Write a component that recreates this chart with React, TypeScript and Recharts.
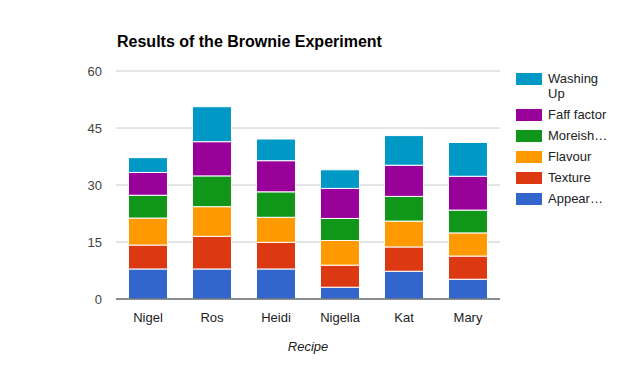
import React from "react";
import { BarChart, Bar, XAxis, YAxis, CartesianGrid } from "recharts";

const recipes = ["Nigel", "Ros", "Heidi", "Nigella", "Kat", "Mary"];
const appearance = [7.9, 7.9, 7.9, 3.1, 7.3, 5.2];
const texture = [6.3, 8.6, 7.0, 5.8, 6.4, 6.1];
const flavour = [7.1, 7.8, 6.6, 6.5, 6.8, 6.1];
const moreish = [6.0, 8.1, 6.7, 5.8, 6.5, 6.0];
const faff = [6.0, 9.0, 8.2, 7.9, 8.2, 8.9];
const washing = [3.9, 9.2, 5.7, 4.9, 7.8, 8.9];
const yTicks = [0, 15, 30, 45, 60];

const series = [
  { key: "appearance", name: "Appear…", color: "#3366cc", values: appearance },
  { key: "texture", name: "Texture", color: "#dc3912", values: texture },
  { key: "flavour", name: "Flavour", color: "#ff9900", values: flavour },
  { key: "moreish", name: "Moreish…", color: "#109618", values: moreish },
  { key: "faff", name: "Faff factor", color: "#990099", values: faff },
  { key: "washing", name: "Washing Up", color: "#0099c6", values: washing },
];

const data = recipes.map((r, i) => {
  const row: any = { recipe: r };
  series.forEach((s) => (row[s.key] = s.values[i]));
  return row;
});

const font = "Arial, 'Liberation Sans', sans-serif";

const LegendBox = () => {
  const items = [...series].reverse();
  return (
    <div style={{ position: "absolute", left: 516, top: 71, fontFamily: font, fontSize: 13, color: "#222" }}>
      {items.map((s) => {
        const lines = s.name === "Washing Up" ? ["Washing", "Up"] : [s.name];
        return (
          <div key={s.key} style={{ display: "flex", alignItems: "flex-start", marginBottom: 6 }}>
            <div style={{ width: 26, height: 12, background: s.color, marginTop: 2, marginRight: 6, flexShrink: 0 }} />
            <div style={{ lineHeight: "15px" }}>
              {lines.map((l) => (
                <div key={l}>{l}</div>
              ))}
            </div>
          </div>
        );
      })}
    </div>
  );
};

export default function App() {
  return (
    <div style={{ position: "absolute", left: 0, top: 0, width: 620, height: 371, background: "#fff" }}>
      <BarChart
        width={620}
        height={371}
        data={data}
        margin={{ top: 71, right: 120, bottom: 0, left: 0 }}
        barCategoryGap="19.5%"
      >
        <CartesianGrid horizontal vertical={false} stroke="#cccccc" />
        <XAxis
          dataKey="recipe"
          height={72}
          tickLine={false}
          axisLine={{ stroke: "#333333" }}
          tick={{ fontFamily: font, fontSize: 13, fill: "#222" }}
          tickMargin={8}
        />
        <YAxis
          width={116}
          domain={[0, 60]}
          ticks={yTicks}
          axisLine={false}
          tickLine={false}
          tickMargin={8}
          tick={{ fontFamily: font, fontSize: 13, fill: "#444" }}
        />
        {series.map((s) => (
          <Bar
            key={s.key}
            dataKey={s.key}
            name={s.name}
            stackId="a"
            fill={s.color}
            stroke="#ffffff"
            strokeWidth={1}
            isAnimationActive={false}
          />
        ))}
      </BarChart>
      <div style={{ position: "absolute", left: 117, top: 33, fontFamily: font, fontWeight: "bold", fontSize: 16, color: "#000" }}>
        Results of the Brownie Experiment
      </div>
      <div style={{ position: "absolute", left: 0, width: 616, top: 339, textAlign: "center", fontFamily: font, fontStyle: "italic", fontSize: 13, color: "#222" }}>
        Recipe
      </div>
      <LegendBox />
    </div>
  );
}
